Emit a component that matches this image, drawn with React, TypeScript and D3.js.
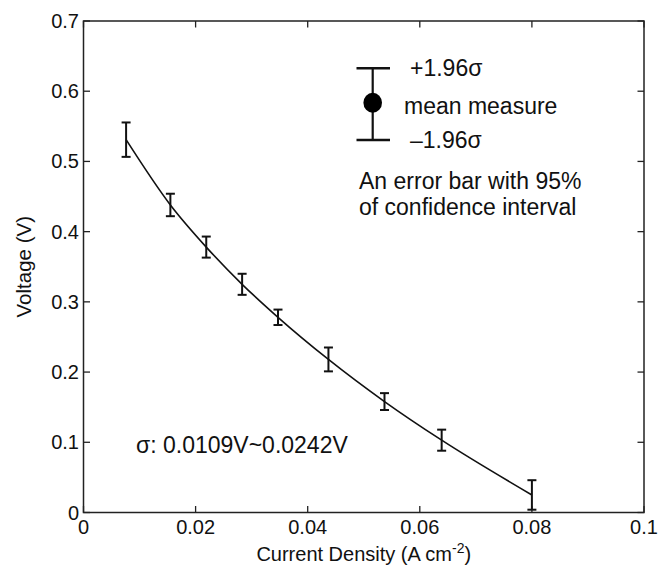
import React from "react";
import * as d3 from "d3";

const currentDensity = [0.0076, 0.0155, 0.0219, 0.0283, 0.0347, 0.0437, 0.0537, 0.0639, 0.08];
const voltage = [0.531, 0.438, 0.378, 0.325, 0.278, 0.218, 0.158, 0.103, 0.025];
const errHalf = [0.0245, 0.016, 0.015, 0.015, 0.011, 0.017, 0.012, 0.015, 0.021];
const xTicks = [0, 0.02, 0.04, 0.06, 0.08, 0.1];
const xTickLabels = ["0", "0.02", "0.04", "0.06", "0.08", "0.1"];
const yTicks = [0, 0.1, 0.2, 0.3, 0.4, 0.5, 0.6, 0.7];
const yTickLabels = ["0", "0.1", "0.2", "0.3", "0.4", "0.5", "0.6", "0.7"];

const W = 672;
const H = 566;
const L = 83.5;
const R = 644;
const T = 21;
const B = 512.5;
const FONT = "'Liberation Sans', Arial, Helvetica, sans-serif";
const AX = "#222";

export default function App() {
  const x = d3.scaleLinear().domain([0, 0.1]).range([L, R]);
  const y = d3.scaleLinear().domain([0, 0.7]).range([B, T]);
  const pts = currentDensity.map((c, i) => [c, voltage[i]] as [number, number]);
  const line = d3
    .line<[number, number]>()
    .x((d) => x(d[0]))
    .y((d) => y(d[1]))
    .curve(d3.curveMonotoneX);
  const tick = 6.5;
  const cap = 4.5;

  return (
    <svg
      width={W}
      height={H}
      style={{ position: "absolute", left: 0, top: 0, background: "#fff" }}
      fontFamily={FONT}
    >
      <rect x={0} y={0} width={W} height={H} fill="#fff" />
      {/* frame */}
      <rect x={L} y={T} width={R - L} height={B - T} fill="none" stroke={AX} strokeWidth={1.5} />
      {/* x ticks */}
      {xTicks.map((t, i) => (
        <g key={"xt" + i}>
          <line x1={x(t)} x2={x(t)} y1={B} y2={B - tick} stroke={AX} strokeWidth={1.3} />
          <line x1={x(t)} x2={x(t)} y1={T} y2={T + tick} stroke={AX} strokeWidth={1.3} />
          <text x={x(t)} y={534} textAnchor="middle" fontSize={20} fill="#111">
            {xTickLabels[i]}
          </text>
        </g>
      ))}
      {/* y ticks */}
      {yTicks.map((t, i) => (
        <g key={"yt" + i}>
          <line x1={L} x2={L + tick} y1={y(t)} y2={y(t)} stroke={AX} strokeWidth={1.3} />
          <line x1={R} x2={R - tick} y1={y(t)} y2={y(t)} stroke={AX} strokeWidth={1.3} />
          <text x={79} y={y(t)} dy="0.35em" textAnchor="end" fontSize={20} fill="#111">
            {yTickLabels[i]}
          </text>
        </g>
      ))}
      {/* axis titles */}
      <text x={(L + R) / 2} y={561} textAnchor="middle" fontSize={20} fill="#111">
        Current Density (A cm
        <tspan dy={-8} fontSize={14}>-2</tspan>
        <tspan dy={8}>)</tspan>
      </text>
      <text
        transform={`translate(31,${(T + B) / 2}) rotate(-90)`}
        textAnchor="middle"
        fontSize={20.5}
        fill="#111"
      >
        Voltage (V)
      </text>
      {/* curve */}
      <path d={line(pts) || ""} fill="none" stroke="#111" strokeWidth={1.6} />
      {/* error bars */}
      {pts.map((p, i) => {
        const cx = x(p[0]);
        const y1 = y(p[1] + errHalf[i]);
        const y2 = y(p[1] - errHalf[i]);
        return (
          <g key={"e" + i} stroke="#111" strokeWidth={2}>
            <line x1={cx} x2={cx} y1={y1} y2={y2} />
            <line x1={cx - cap} x2={cx + cap} y1={y1} y2={y1} />
            <line x1={cx - cap} x2={cx + cap} y1={y2} y2={y2} />
          </g>
        );
      })}
      {/* legend */}
      <g stroke="#111" strokeWidth={2.2}>
        <line x1={372.7} x2={372.7} y1={68.3} y2={140} />
        <line x1={356.5} x2={390} y1={68.3} y2={68.3} strokeWidth={2.6} />
        <line x1={356.5} x2={390} y1={140} y2={140} strokeWidth={2.6} />
      </g>
      <ellipse cx={372.7} cy={102.7} rx={9.3} ry={10} fill="#000" />
      <g fontSize={23} fill="#111">
        <text x={410} y={76}>+1.96σ</text>
        <text x={404} y={114}>mean measure</text>
        <text x={410} y={148}>–1.96σ</text>
        <text x={359} y={189}>An error bar with 95%</text>
        <text x={359} y={215}>of confidence interval</text>
        <text x={136} y={453}>σ: 0.0109V~0.0242V</text>
      </g>
    </svg>
  );
}
